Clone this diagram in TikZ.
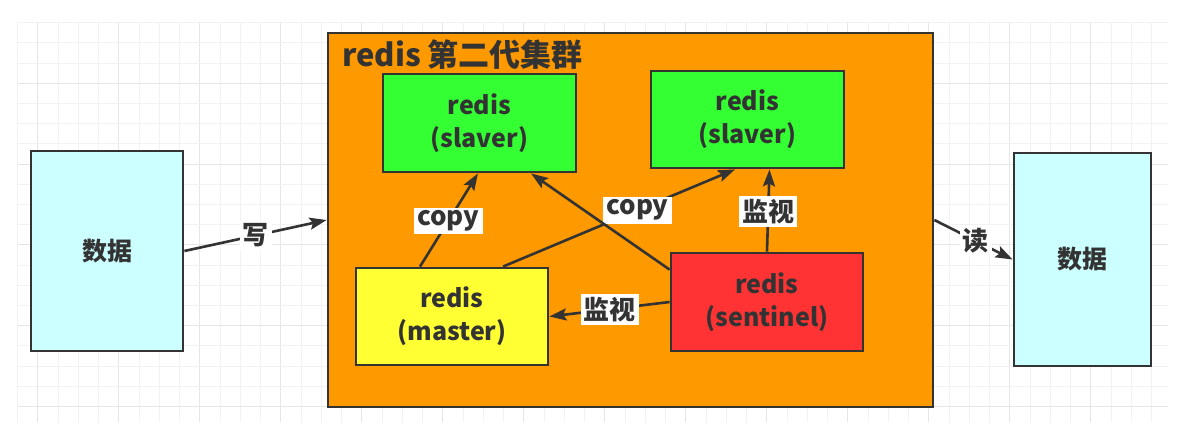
\documentclass[tikz,border=0pt]{standalone}
\usepackage{fontspec}
\setmainfont{Noto Sans CJK SC}
\usepackage{tikz}
\usetikzlibrary{arrows.meta}
\definecolor{ink}{HTML}{333333}
\definecolor{clusterorange}{HTML}{FF9900}
\definecolor{slavegreen}{HTML}{33FF33}
\definecolor{masteryellow}{HTML}{FFFF33}
\definecolor{sentinelred}{HTML}{FF3333}
\definecolor{datacyan}{HTML}{CCFFFF}
\definecolor{gridminor}{HTML}{F2F2F2}
\definecolor{gridmajor}{HTML}{E6E6E6}

\begin{document}
\begin{tikzpicture}[
  x=1pt,y=-1pt,
  >={Stealth[length=17pt,width=12pt,inset=3pt]},
  box/.style={draw=ink,line width=2.8pt,align=center,text=ink,inner sep=0pt,
    font=\fontsize{25}{33}\selectfont\bfseries},
  arrow/.style={->,draw=ink,line width=2.6pt},
  tag/.style={fill=white,text=ink,inner sep=3pt,font=\fontsize{26}{28}\selectfont\bfseries}
]
\useasboundingbox (0,0) rectangle (1200,437);
\fill[white] (0,0) rectangle (1200,437);

% grid paper
\foreach \i in {0,...,56}{
  \pgfmathtruncatemacro\m{mod(\i,4)}
  \ifnum\m=1 \def\gc{gridmajor}\else\def\gc{gridminor}\fi
  \draw[\gc,line width=1pt] ({17.5+20.25*\i},23) -- ({17.5+20.25*\i},422);
}
\foreach \j in {0,...,19}{
  \pgfmathtruncatemacro\m{mod(\j,4)}
  \ifnum\m=3 \def\gc{gridmajor}\else\def\gc{gridminor}\fi
  \draw[\gc,line width=1pt] (18,{22.7+20.2*\j}) -- (1168,{22.7+20.2*\j});
}

\node[box,fill=datacyan,minimum width=152pt,minimum height=200pt] (data1) at (107,251) {数据};
\node[box,fill=datacyan,minimum width=137pt,minimum height=213pt] (data2) at (1082.5,259.5) {数据};
\node[box,fill=clusterorange,minimum width=605pt,minimum height=374pt] (cluster) at (630.5,220) {};
\node[anchor=west,text=ink,inner sep=0pt,font=\fontsize{31}{31}\selectfont\bfseries] (title) at (342,55) {redis 第二代集群};

\node[box,fill=slavegreen,minimum width=193pt,minimum height=98pt] (slave1) at (479.5,123) {redis\\(slaver)};
\node[box,fill=slavegreen,minimum width=193pt,minimum height=97pt] (slave2) at (747.5,119.5) {redis\\(slaver)};
\node[box,fill=masteryellow,minimum width=192pt,minimum height=97pt] (master) at (452,316.5) {redis\\(master)};
\node[box,fill=sentinelred,minimum width=192pt,minimum height=98pt] (sentinel) at (767,302) {redis\\(sentinel)};

\draw[arrow] (data1.east) -- node[tag]{写} (cluster.west);
\draw[arrow] (cluster.east) -- node[tag,pos=0.53]{读} (data2.west);
\draw[arrow] ([xshift=-32pt]master.north) -- node[tag,pos=0.49]{copy} ([xshift=-1.5pt]slave1.south);
\draw[arrow] ([xshift=51pt]master.north) -- node[tag,pos=0.58]{copy} ([xshift=-12.5pt]slave2.south);
\draw[arrow] ([yshift=-18pt]sentinel.north west) -- ([xshift=51.5pt]slave1.south);
\draw[arrow] (sentinel.north) -- node[tag,pos=0.49]{监视} ([xshift=22pt]slave2.south);
\draw[arrow] (sentinel.west) -- node[tag]{监视} (master.east);
\end{tikzpicture}
\end{document}
